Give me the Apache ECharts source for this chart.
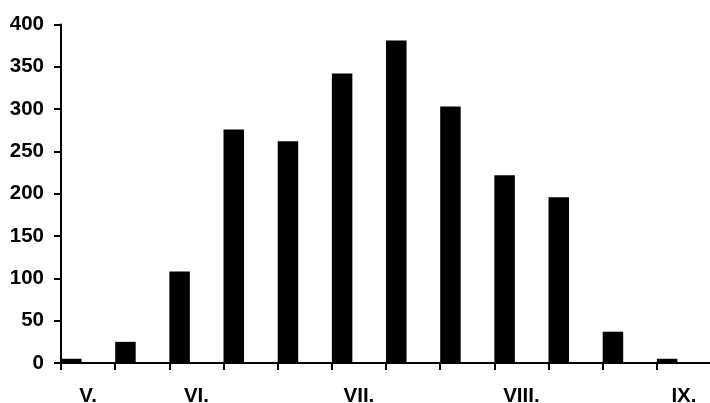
<!DOCTYPE html>
<html>
<head>
<meta charset="utf-8">
<script src="https://cdn.jsdelivr.net/npm/echarts@6/dist/echarts.min.js"></script>
<style>
html,body{margin:0;padding:0;background:#fff;}
#chart{width:710px;height:403px;}
</style>
</head>
<body>
<div id="chart"></div>
<script>
var categories = ['V.', '', 'VI.', '', '', 'VII.', '', '', 'VIII.', '', '', 'IX.'];
var values = [5, 25, 108, 276, 262, 342, 381, 303, 222, 196, 37, 5];
var spacer = [null, null, null, null, null, null, null, null, null, null, null, null];
var yMin = 0, yMax = 400, yStep = 50;

var font = '"Liberation Sans", Arial, sans-serif';
var chart = echarts.init(document.getElementById('chart'));
chart.setOption({
  animation: false,
  backgroundColor: '#ffffff',
  grid: { left: 61, top: 24.5, width: 650, height: 338.5, containLabel: false, outerBoundsMode: 'none' },
  xAxis: {
    type: 'category',
    data: categories,
    boundaryGap: true,
    axisLine: { show: true, lineStyle: { color: '#000', width: 2 } },
    axisTick: { show: true, interval: 0, length: 7, lineStyle: { color: '#000', width: 2 } },
    axisLabel: { interval: 0, margin: 23, color: '#000', fontSize: 20.5, fontWeight: 'bold', fontFamily: font, hideOverlap: false },
    splitLine: { show: false }
  },
  yAxis: {
    type: 'value',
    min: yMin, max: yMax, interval: yStep,
    axisLine: { show: true, lineStyle: { color: '#000', width: 2 } },
    axisTick: { show: true, length: 7, lineStyle: { color: '#000', width: 2 } },
    axisLabel: { margin: 17, color: '#000', fontSize: 20.5, fontWeight: 'bold', fontFamily: font },
    splitLine: { show: false }
  },
  series: [
    { type: 'bar', data: values, barWidth: 20.5, barGap: '64%', itemStyle: { color: '#000' }, silent: true },
    { type: 'bar', data: spacer, barWidth: 20.5, itemStyle: { color: 'rgba(0,0,0,0)' }, silent: true }
  ]
});
</script>
</body>
</html>
